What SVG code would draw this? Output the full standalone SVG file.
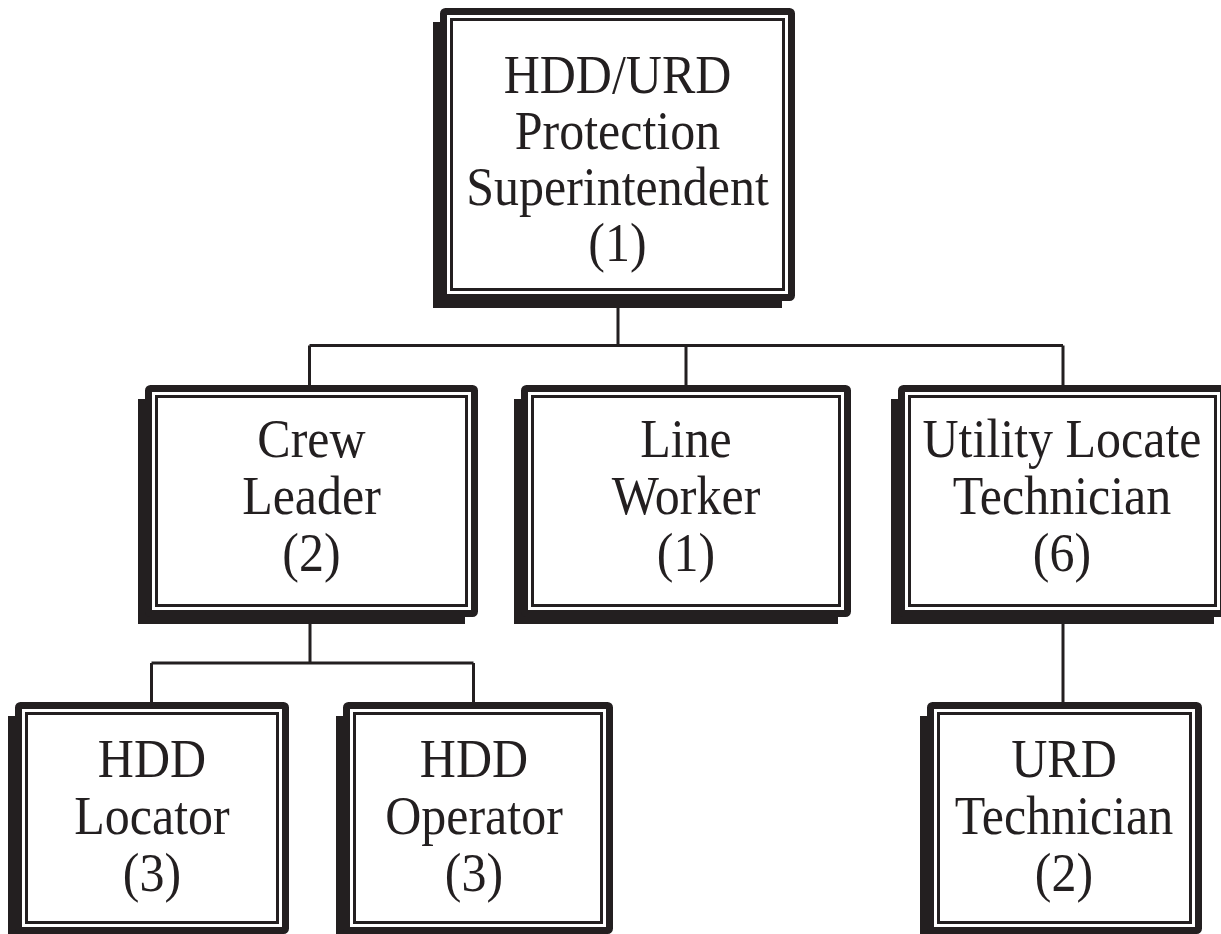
<svg xmlns="http://www.w3.org/2000/svg" width="1221" height="934" viewBox="0 0 1221 934">
  <style>
    .shadow { fill: #231f20; }
    .frame { fill: #ffffff; stroke: #231f20; stroke-width: 7; }
    .inner { fill: none; stroke: #231f20; stroke-width: 3; }
    .label { font-family: "Liberation Serif", "Times New Roman", serif; font-size: 50px; fill: #231f20; text-anchor: middle; }
    .wire { fill: none; stroke: #231f20; stroke-width: 3; }
  </style>
  <rect width="1221" height="934" fill="#ffffff"/>

  <!-- connectors -->
  <g id="connectors">
    <path class="wire" d="M618 308 V345.5 M309.5 345.5 H1063 M309.5 345.5 V385 M686 345.5 V385 M1063 345.5 V385"/>
    <path class="wire" d="M310 624 V663 M151.5 663 H473.5 M151.5 663 V702 M473.5 663 V702"/>
    <path class="wire" d="M1063 624 V702"/>
  </g>

  <!-- superintendent -->
  <g id="superintendent">
    <rect class="shadow" x="433" y="22" width="349" height="286"/>
    <rect class="frame" x="443.5" y="11.5" width="348" height="286" rx="2"/>
    <rect class="inner" x="451.5" y="19.5" width="332" height="270"/>
    <text class="label" transform="translate(617.5 93) scale(1 1.1)">HDD/URD</text>
    <text class="label" transform="translate(617.5 149) scale(1 1.1)">Protection</text>
    <text class="label" transform="translate(617.5 205) scale(1 1.1)">Superintendent</text>
    <text class="label" transform="translate(617.5 261) scale(1 1.1)">(1)</text>
  </g>

  <!-- crew leader -->
  <g id="crew-leader">
    <rect class="shadow" x="138" y="399" width="327" height="225"/>
    <rect class="frame" x="148.5" y="388.5" width="326" height="225" rx="2"/>
    <rect class="inner" x="156.5" y="396.5" width="310" height="209"/>
    <text class="label" transform="translate(311.5 457) scale(1 1.1)">Crew</text>
    <text class="label" transform="translate(311.5 514) scale(1 1.1)">Leader</text>
    <text class="label" transform="translate(311.5 571) scale(1 1.1)">(2)</text>
  </g>

  <!-- line worker -->
  <g id="line-worker">
    <rect class="shadow" x="514" y="399" width="324" height="225"/>
    <rect class="frame" x="524.5" y="388.5" width="323" height="225" rx="2"/>
    <rect class="inner" x="532.5" y="396.5" width="307" height="209"/>
    <text class="label" transform="translate(686 457) scale(1 1.1)">Line</text>
    <text class="label" transform="translate(686 514) scale(1 1.1)">Worker</text>
    <text class="label" transform="translate(686 571) scale(1 1.1)">(1)</text>
  </g>

  <!-- utility locate technician -->
  <g id="utility-locate">
    <rect class="shadow" x="891" y="399" width="323" height="225"/>
    <rect class="frame" x="901.5" y="388.5" width="322" height="225" rx="2"/>
    <rect class="inner" x="909.5" y="396.5" width="306" height="209"/>
    <text class="label" transform="translate(1062 457) scale(1 1.1)">Utility Locate</text>
    <text class="label" transform="translate(1062 514) scale(1 1.1)">Technician</text>
    <text class="label" transform="translate(1062 571) scale(1 1.1)">(6)</text>
  </g>

  <!-- hdd locator -->
  <g id="hdd-locator">
    <rect class="shadow" x="8" y="716" width="268" height="225"/>
    <rect class="frame" x="18.5" y="705.5" width="267" height="225" rx="2"/>
    <rect class="inner" x="26.5" y="713.5" width="251" height="209"/>
    <text class="label" transform="translate(152 777) scale(1 1.1)">HDD</text>
    <text class="label" transform="translate(152 834) scale(1 1.1)">Locator</text>
    <text class="label" transform="translate(152 891) scale(1 1.1)">(3)</text>
  </g>

  <!-- hdd operator -->
  <g id="hdd-operator">
    <rect class="shadow" x="336" y="716" width="264" height="225"/>
    <rect class="frame" x="346.5" y="705.5" width="263" height="225" rx="2"/>
    <rect class="inner" x="354.5" y="713.5" width="247" height="209"/>
    <text class="label" transform="translate(474 777) scale(1 1.1)">HDD</text>
    <text class="label" transform="translate(474 834) scale(1 1.1)">Operator</text>
    <text class="label" transform="translate(474 891) scale(1 1.1)">(3)</text>
  </g>

  <!-- urd technician -->
  <g id="urd-technician">
    <rect class="shadow" x="920" y="716" width="269" height="225"/>
    <rect class="frame" x="930.5" y="705.5" width="268" height="225" rx="2"/>
    <rect class="inner" x="938.5" y="713.5" width="252" height="209"/>
    <text class="label" transform="translate(1064 777) scale(1 1.1)">URD</text>
    <text class="label" transform="translate(1064 834) scale(1 1.1)">Technician</text>
    <text class="label" transform="translate(1064 891) scale(1 1.1)">(2)</text>
  </g>
</svg>
